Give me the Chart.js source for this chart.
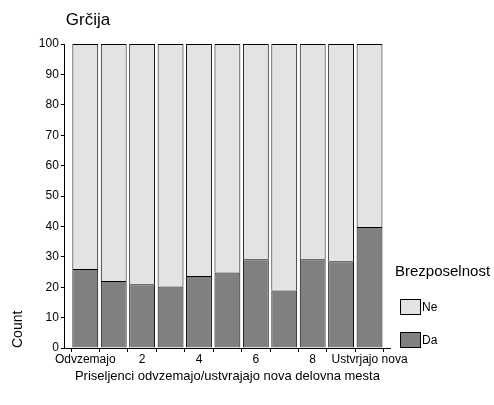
<!DOCTYPE html>
<html>
<head>
<meta charset="utf-8">
<script src="https://cdn.jsdelivr.net/npm/chart.js@4"></script>
<style>
  body { margin: 0; background: #fff; }
</style>
</head>
<body>
<canvas id="grafico" width="494" height="405"></canvas>
<script>
// categorie sull'asse x (0 = Odvzemajo, 10 = Ustvrjajo nova)
var kategorije = ['Odvzemajo', '1', '2', '3', '4', '5', '6', '7', '8', '9', 'Ustvrjajo nova'];
// percentuali
var da = [26, 22, 21, 20.2, 23.7, 24.8, 29.2, 18.9, 29.2, 28.5, 39.8];
var ne = [74, 78, 79, 79.8, 76.3, 75.2, 70.8, 81.1, 70.8, 71.5, 60.2];
var yTicks = [0, 10, 20, 30, 40, 50, 60, 70, 80, 90, 100];

var font = "Arial, 'Liberation Sans', sans-serif";

function punti(valori) {
  return valori.map(function(v, i) { return { x: i, y: v }; });
}

// titolo in alto a sinistra, allineato all'asse y
var titoloPlugin = {
  id: 'titolo',
  afterDraw: function(chart) {
    var ctx = chart.ctx;
    ctx.save();
    ctx.fillStyle = '#000';
    ctx.font = '17px ' + font;
    ctx.textBaseline = 'middle';
    ctx.fillText('Grčija', chart.chartArea.left + 1, 20);
    ctx.restore();
  }
};

// legenda a destra, in basso (Ne sopra, Da sotto)
var legendaPlugin = {
  id: 'legenda',
  afterDraw: function(chart) {
    var ctx = chart.ctx;
    var area = chart.chartArea;
    var x = area.right + 10;
    var sets = chart.data.datasets.slice().reverse();
    ctx.save();
    ctx.fillStyle = '#000';
    ctx.textBaseline = 'middle';
    ctx.font = '15px ' + font;
    ctx.fillText('Brezposelnost', area.right + 5, area.bottom - 76);
    ctx.font = '12px ' + font;
    sets.forEach(function(ds, i) {
      var yb = area.bottom - 49 + i * 33;
      ctx.fillStyle = ds.backgroundColor;
      ctx.fillRect(x, yb, 21, 16);
      ctx.strokeStyle = '#000';
      ctx.lineWidth = 1;
      ctx.strokeRect(x + 0.5, yb + 0.5, 20, 15);
      ctx.fillStyle = '#000';
      ctx.fillText(ds.label, x + 22, yb + 9);
    });
    ctx.restore();
  }
};

var grafico = new Chart(document.getElementById('grafico'), {
  type: 'bar',
  data: {
    datasets: [{
      label: 'Da',
      data: punti(da),
      backgroundColor: '#808080',
      borderColor: '#000',
      borderWidth: 1
    }, {
      label: 'Ne',
      data: punti(ne),
      backgroundColor: '#e3e3e3',
      borderColor: '#000',
      borderWidth: 1
    }]
  },
  options: {
    responsive: false,
    animation: false,
    layout: { padding: { left: 10, top: 44, right: 104, bottom: 21 } },
    datasets: { bar: { categoryPercentage: 1, barPercentage: 0.91 } },
    plugins: {
      legend: { display: false },
      tooltip: { enabled: false }
    },
    scales: {
      x: {
        type: 'linear',
        stacked: true,
        offset: false,
        min: -0.72,
        max: 10.72,
        border: { color: '#000', width: 1 },
        grid: { drawOnChartArea: false, color: '#000', tickLength: 4 },
        afterBuildTicks: function(scale) {
          scale.ticks = kategorije.map(function(k, i) { return { value: i }; });
        },
        ticks: {
          color: '#000',
          font: { family: font, size: 12 },
          autoSkip: false,
          maxRotation: 0,
          padding: 0,
          callback: function(value) {
            return value % 2 == 0 ? kategorije[value] : '';
          }
        },
        title: { display: true, text: 'Priseljenci odvzemajo/ustvrajajo nova delovna mesta', color: '#000', font: { family: font, size: 13 }, padding: { top: 2, bottom: 0 } }
      },
      y: {
        stacked: true,
        min: 0,
        max: 100,
        border: { color: '#000', width: 1 },
        grid: { drawOnChartArea: false, color: '#000', tickLength: 4 },
        afterBuildTicks: function(scale) {
          scale.ticks = yTicks.map(function(v) { return { value: v }; });
        },
        ticks: { color: '#000', font: { family: font, size: 12 }, padding: 2 },
        title: { display: true, text: 'Count', align: 'start', color: '#000', font: { family: font, size: 14 }, padding: { top: 0, bottom: 10 } }
      }
    }
  },
  plugins: [titoloPlugin, legendaPlugin]
});
</script>
</body>
</html>
